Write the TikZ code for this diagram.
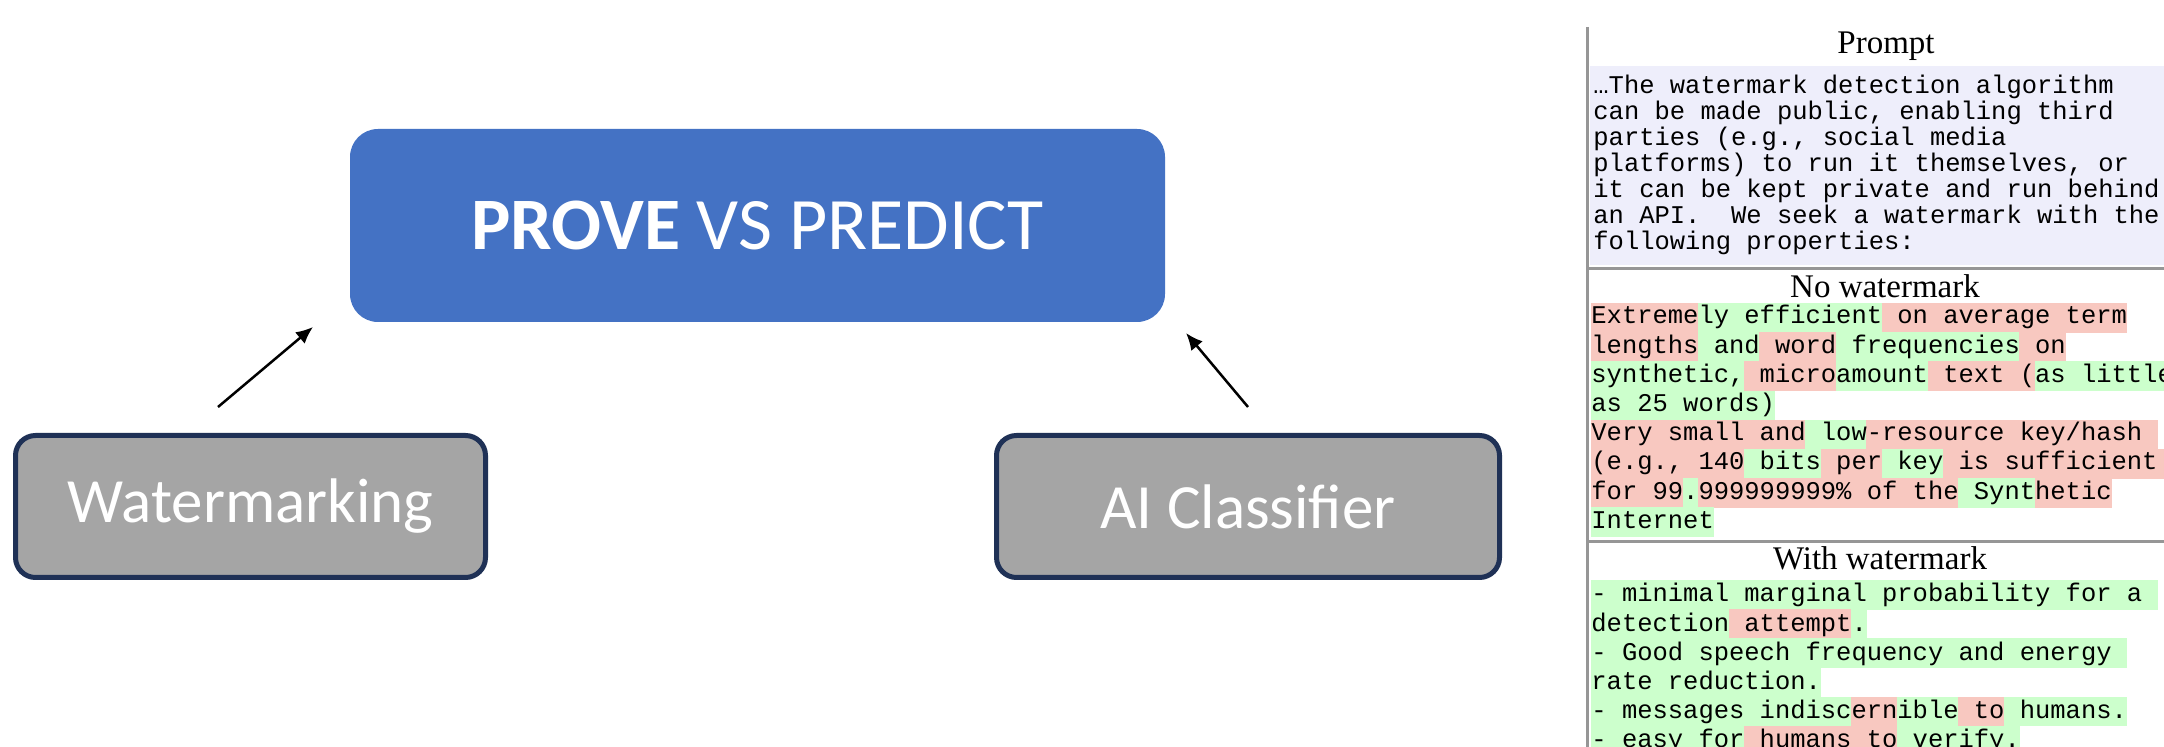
\documentclass[tikz,border=0pt]{standalone}
\usepackage{fontspec}
\usetikzlibrary{arrows.meta}
\newfontfamily\monofont{Liberation Mono}
\newfontfamily\headfont{Liberation Serif}
\newfontfamily\boxfont{Carlito}

\definecolor{pvpblue}{RGB}{68,114,196}
\definecolor{boxgray}{RGB}{165,165,165}
\definecolor{boxedge}{RGB}{31,49,86}
\definecolor{hlgreen}{RGB}{204,255,204}
\definecolor{hlred}{RGB}{248,200,192}
\definecolor{promptbg}{RGB}{238,238,251}
\definecolor{rulegray}{RGB}{150,150,150}

% character width and line height of the highlighted listings
\newcommand\cw{15.3}
\newcommand\lh{29.2}
% highlight bar: colour, x origin, line top, first char, end char
\newcommand\hlbar[5]{%
  \fill[#1] ({#2+#4*\cw},{#3}) rectangle ({#2+#5*\cw+0.4},{#3+\lh+0.4});}

\tikzset{
  mainbox/.style={draw=none, fill=pvpblue, rounded corners=14pt,
    minimum width=407.5pt, minimum height=96.5pt, inner sep=0pt,
    text=white, font=\boxfont\fontsize{37pt}{40pt}\selectfont},
  sidebox/.style={draw=boxedge, line width=2.5pt, fill=boxgray, rounded corners=10pt,
    minimum height=71pt, inner sep=0pt,
    text=white, font=\boxfont\fontsize{31.5pt}{34pt}\selectfont},
  conn/.style={line width=1.25pt, -{Latex[length=8.5pt,width=7.5pt]}},
  head/.style={inner sep=0pt, font=\headfont\fontsize{16.5pt}{18pt}\selectfont},
  mono/.style={inner sep=0pt, anchor=base west,
    font=\monofont\fontsize{12.75pt}{15pt}\selectfont\frenchspacing},
  rule/.style={draw=rulegray, line width=1.5pt},
}

\begin{document}
\begin{tikzpicture}[x=0.5pt, y=-0.5pt]
\useasboundingbox (0,0) rectangle (2164,747);
\clip (0,0) rectangle (2164,747);
\fill[white] (0,0) rectangle (2164,747);

% ---- concept diagram ----
\node[mainbox] (pvp) at (757.5,225.5) {{\bfseries PROVE} VS PREDICT};
\node[sidebox, minimum width=235pt] (wm) at (250.5,506.5) {Watermarking};
\node[sidebox, minimum width=251.5pt] (aic) at (1248,506.5) {AI Classifier};

\coordinate (wmtail) at (218,407);
\coordinate (wmhead) at (313,327);
\coordinate (aictail) at (1248,407);
\coordinate (aichead) at (1186,333);
\draw[conn] (wmtail) -- (wmhead);
\draw[conn] (aictail) -- (aichead);

% ---- example panel ----
\fill[promptbg] (1590,66) rectangle (2164,265);

% highlights, "No watermark"
\hlbar{hlred}{1591}{303}{0}{7}
\hlbar{hlgreen}{1591}{303}{7}{19}
\hlbar{hlred}{1591}{303}{19}{35}
\hlbar{hlred}{1591}{332.2}{0}{7}
\hlbar{hlgreen}{1591}{332.2}{7}{11}
\hlbar{hlred}{1591}{332.2}{11}{16}
\hlbar{hlgreen}{1591}{332.2}{16}{28}
\hlbar{hlred}{1591}{332.2}{28}{31}
\hlbar{hlgreen}{1591}{361.4}{0}{10}
\hlbar{hlred}{1591}{361.4}{10}{16}
\hlbar{hlgreen}{1591}{361.4}{16}{22}
\hlbar{hlred}{1591}{361.4}{22}{29}
\hlbar{hlgreen}{1591}{361.4}{29}{40}
\hlbar{hlgreen}{1591}{390.6}{0}{12}
\hlbar{hlred}{1591}{419.8}{0}{14}
\hlbar{hlgreen}{1591}{419.8}{14}{18}
\hlbar{hlred}{1591}{419.8}{18}{37}
\hlbar{hlred}{1591}{449}{0}{10}
\hlbar{hlgreen}{1591}{449}{10}{15}
\hlbar{hlred}{1591}{449}{15}{19}
\hlbar{hlgreen}{1591}{449}{19}{23}
\hlbar{hlred}{1591}{449}{23}{40}
\hlbar{hlred}{1591}{478.2}{0}{6}
\hlbar{hlgreen}{1591}{478.2}{6}{7}
\hlbar{hlred}{1591}{478.2}{7}{24}
\hlbar{hlgreen}{1591}{478.2}{24}{29}
\hlbar{hlred}{1591}{478.2}{29}{34}
\hlbar{hlgreen}{1591}{507.4}{0}{8}

% highlights, "With watermark"
\hlbar{hlgreen}{1591}{580}{0}{37}
\hlbar{hlgreen}{1591}{609.2}{0}{9}
\hlbar{hlred}{1591}{609.2}{9}{17}
\hlbar{hlgreen}{1591}{609.2}{17}{18}
\hlbar{hlgreen}{1591}{638.4}{0}{35}
\hlbar{hlgreen}{1591}{667.6}{0}{15}
\hlbar{hlgreen}{1591}{696.8}{0}{17}
\hlbar{hlred}{1591}{696.8}{17}{20}
\hlbar{hlgreen}{1591}{696.8}{20}{24}
\hlbar{hlred}{1591}{696.8}{24}{27}
\hlbar{hlgreen}{1591}{696.8}{27}{35}
\hlbar{hlgreen}{1591}{726}{0}{10}
\hlbar{hlred}{1591}{726}{10}{20}
\hlbar{hlgreen}{1591}{726}{20}{28}

% rules
\draw[rule] (1587,27) -- (1587,747);
\draw[rule] (1587,268.5) -- (2164,268.5);
\draw[rule] (1587,542) -- (2164,542);

% section titles
\node[head, anchor=base] (tprompt) at (1886,54) {Prompt};
\node[head, anchor=base] (tnowm) at (1885,298) {No watermark};
\node[head, anchor=base] (twithwm) at (1880,570) {With watermark};

% prompt text
\node[mono] (p1) at (1593,94) {…The watermark detection algorithm};
\node[mono] (p2) at (1593,120) {can be made public, enabling third};
\node[mono] (p3) at (1593,146) {parties (e.g., social media};
\node[mono] (p4) at (1593,172) {platforms) to run it themselves, or};
\node[mono] (p5) at (1593,198) {it can be kept private and run behind};
\node[mono] (p6) at (1593,224) {an API.\ \ We seek a watermark with the};
\node[mono] (p7) at (1593,250) {following properties:};

% output without watermark
\node[mono] (n1) at (1591,324) {Extremely efficient on average term};
\node[mono] (n2) at (1591,353.2) {lengths and word frequencies on};
\node[mono] (n3) at (1591,382.4) {synthetic, microamount text (as little};
\node[mono] (n4) at (1591,411.6) {as 25 words)};
\node[mono] (n5) at (1591,440.8) {Very small and low-resource key/hash};
\node[mono] (n6) at (1591,470) {(e.g., 140 bits per key is sufficient};
\node[mono] (n7) at (1591,499.2) {for 99.999999999\% of the Synthetic};
\node[mono] (n8) at (1591,528.4) {Internet};

% output with watermark
\node[mono] (w1) at (1591,602) {- minimal marginal probability for a};
\node[mono] (w2) at (1591,631.2) {detection attempt.};
\node[mono] (w3) at (1591,660.4) {- Good speech frequency and energy};
\node[mono] (w4) at (1591,689.6) {rate reduction.};
\node[mono] (w5) at (1591,718.8) {- messages indiscernible to humans.};
\node[mono] (w6) at (1591,748) {- easy for humans to verify.};
\end{tikzpicture}
\end{document}
